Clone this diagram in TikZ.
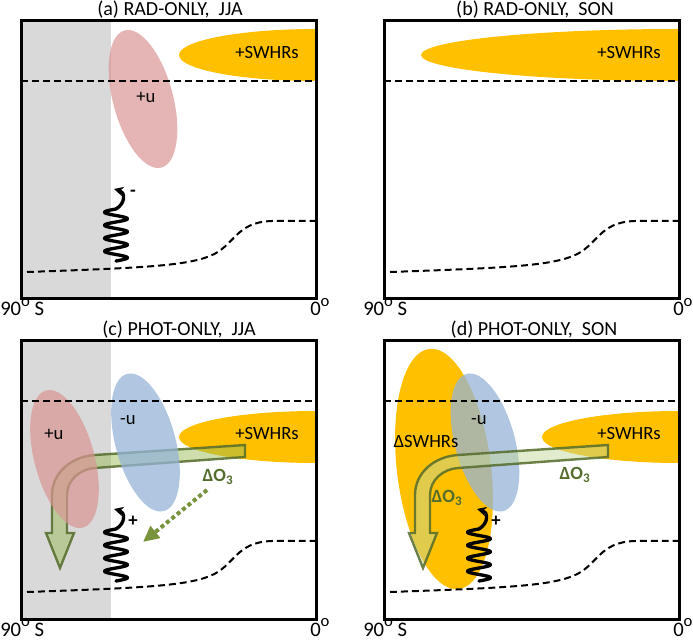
\documentclass[tikz,border=0pt]{standalone}
\usepackage{fontspec}
\setmainfont{Carlito}
\usetikzlibrary{arrows.meta}
\definecolor{swhr}{RGB}{255,192,0}
\definecolor{greyreg}{RGB}{217,217,217}
\definecolor{pinku}{RGB}{217,150,148}
\definecolor{blueu}{RGB}{149,179,215}
\definecolor{olivedk}{RGB}{84,108,44}
\definecolor{olivemd}{RGB}{119,147,60}
\definecolor{olivefill}{RGB}{155,187,89}
\definecolor{olivepale}{RGB}{196,215,155}
\newcommand{\degsup}{\raisebox{0.48em}{\fontsize{12.5}{12}\selectfont o}}
\newcommand{\drawlevels}{%
  \draw[level] (21,81) -- (316,81);
  \draw[level] (27,272) .. controls (140,268) and (185,266) .. (210,256)
     .. controls (235,246) and (235,222) .. (272,221) -- (316,221);}
\newcommand{\squiggle}[2]{%
  \draw[squig] plot[smooth, domain=0:4, samples=97] ({116+11.5*sin(\x*360)},{261-\x*13});
  \coordinate (#1s) at (116,209);
  \coordinate (#1e) at (114,189);
  \draw[squig,-{Stealth[length=7pt,width=7pt]}] (#1s) .. controls (126,203) and (125,192) .. (#1e);
  \node[sign] (#1sign) at (133,#2) {\ifnum#2<195 -\else +\fi};}
\newcommand{\uell}[3]{\fill[#1, rotate around={15:(#2,#3)}] (#2,#3) ellipse [x radius=30, y radius=71];}
\newcommand{\bandshape}[1]{%
  \filldraw[#1] (245,125) -- (95,135) .. controls (71,136.5) and (52,153) .. (52,175)
   -- (52,213) -- (46,213) -- (60,248) -- (74,213) -- (67,213) -- (67,175)
   .. controls (67,160) and (80,149) .. (95,148) -- (245,137) -- cycle;}
\newcommand{\axislabels}[1]{%
  \node[axis] (#1left) at (0,316) {90\degsup\ S};
  \node[axis] (#1right) at (310,316) {0\degsup};}
\begin{document}
\begin{tikzpicture}[x=0.75pt,y=-0.75pt,
  frame/.style={draw=black, line width=2.25pt},
  level/.style={black, line width=1.5pt, dash pattern=on 5.2pt off 3pt},
  title/.style={font=\fontsize{15}{18}\selectfont, anchor=base, inner sep=0pt},
  axis/.style={font=\fontsize{15.5}{18}\selectfont, anchor=base west, inner sep=0pt},
  lbl/.style={font=\fontsize{14}{16}\selectfont, inner sep=0pt},
  o3/.style={font=\fontsize{14}{16}\selectfont\bfseries, text=olivedk, inner sep=0pt},
  squig/.style={line width=2.5pt, line cap=round, line join=round},
  sign/.style={font=\fontsize{14}{16}\selectfont\bfseries, inner sep=0pt},
  pinkell/.style={fill=pinku, fill opacity=0.7},
  blueell/.style={fill=blueu, fill opacity=0.75},
  bandc/.style={fill=olivefill, fill opacity=0.5, draw=olivedk, draw opacity=0.85, line width=1.8pt},
  bandd/.style={fill=olivepale, fill opacity=0.5, draw=olivedk, draw opacity=0.85, line width=1.8pt}]
\useasboundingbox (0,0) rectangle (693,641);

% ---------------- (a)
\begin{scope}
  \fill[greyreg] (21,21) rectangle (111,299);
  \begin{scope}
    \clip (21,21) rectangle (316,299);
    \fill[swhr] (316,55) ellipse [x radius=137, y radius=26];
  \end{scope}
  \uell{pinkell}{143}{99}
  \drawlevels
  \squiggle{wa}{193}
  \node[lbl] (swa) at (267,53) {+SWHRs};
  \node[lbl] (ua) at (146,97) {+u};
  \node[title] (ta) at (170,16) {(a) RAD-ONLY,\ \ JJA};
  \axislabels{a}
  \draw[frame] (21,21) rectangle (316,299);
\end{scope}

% ---------------- (b)
\begin{scope}[shift={(363,0)}]
  \begin{scope}
    \clip (21,21) rectangle (316,299);
    \fill[swhr] (316,55) ellipse [x radius=258, y radius=26];
  \end{scope}
  \drawlevels
  \node[lbl] (swb) at (266,53) {+SWHRs};
  \node[title] (tb) at (172,16) {(b) RAD-ONLY,\ \ SON};
  \axislabels{b}
  \draw[frame] (21,21) rectangle (316,299);
\end{scope}

% ---------------- (c)
\begin{scope}[shift={(0,320)}]
  \fill[greyreg] (21,21) rectangle (111,299);
  \begin{scope}
    \clip (21,21) rectangle (316,299);
    \fill[swhr] (316,117) ellipse [x radius=137, y radius=26];
  \end{scope}
  \bandshape{bandc}
  \uell{pinkell}{64.5}{139}
  \uell{blueell}{145.5}{122.5}
  \drawlevels
  \coordinate (dcs) at (207,170);
  \coordinate (dce) at (143,222);
  \draw[olivemd, line width=3pt, dash pattern=on 3pt off 2.2pt,
        -{Triangle[length=12pt,width=11pt]}] (dcs) -- (dce);
  \squiggle{wc}{201}
  \node[lbl] (swc) at (267,114) {+SWHRs};
  \node[lbl] (uc1) at (54,114) {+u};
  \node[lbl] (uc2) at (128,100) {-u};
  \node[o3] (oc) at (218,157) {ΔO\textsubscript{3}};
  \node[title] (tc) at (179,16) {(c) PHOT-ONLY,\ \ JJA};
  \axislabels{c}
  \draw[frame] (21,21) rectangle (316,299);
\end{scope}

% ---------------- (d)
\begin{scope}[shift={(363,320)}]
  \fill[swhr, rotate around={7:(81,149)}] (81,149) ellipse [x radius=47, y radius=121];
  \begin{scope}
    \clip (21,21) rectangle (316,299);
    \fill[swhr] (316,117) ellipse [x radius=137, y radius=26];
  \end{scope}
  \uell{blueell}{122}{122.5}
  \bandshape{bandd}
  \drawlevels
  \squiggle{wd}{201}
  \node[lbl] (swd) at (266,114) {+SWHRs};
  \node[lbl] (ud) at (116,100) {-u};
  \node[lbl] (dsw) at (63,122) {ΔSWHRs};
  \node[o3] (od1) at (212,155) {ΔO\textsubscript{3}};
  \node[o3] (od2) at (84,178) {ΔO\textsubscript{3}};
  \node[title] (td) at (171,16) {(d) PHOT-ONLY,\ \ SON};
  \axislabels{d}
  \draw[frame] (21,21) rectangle (316,299);
\end{scope}
\end{tikzpicture}
\end{document}
